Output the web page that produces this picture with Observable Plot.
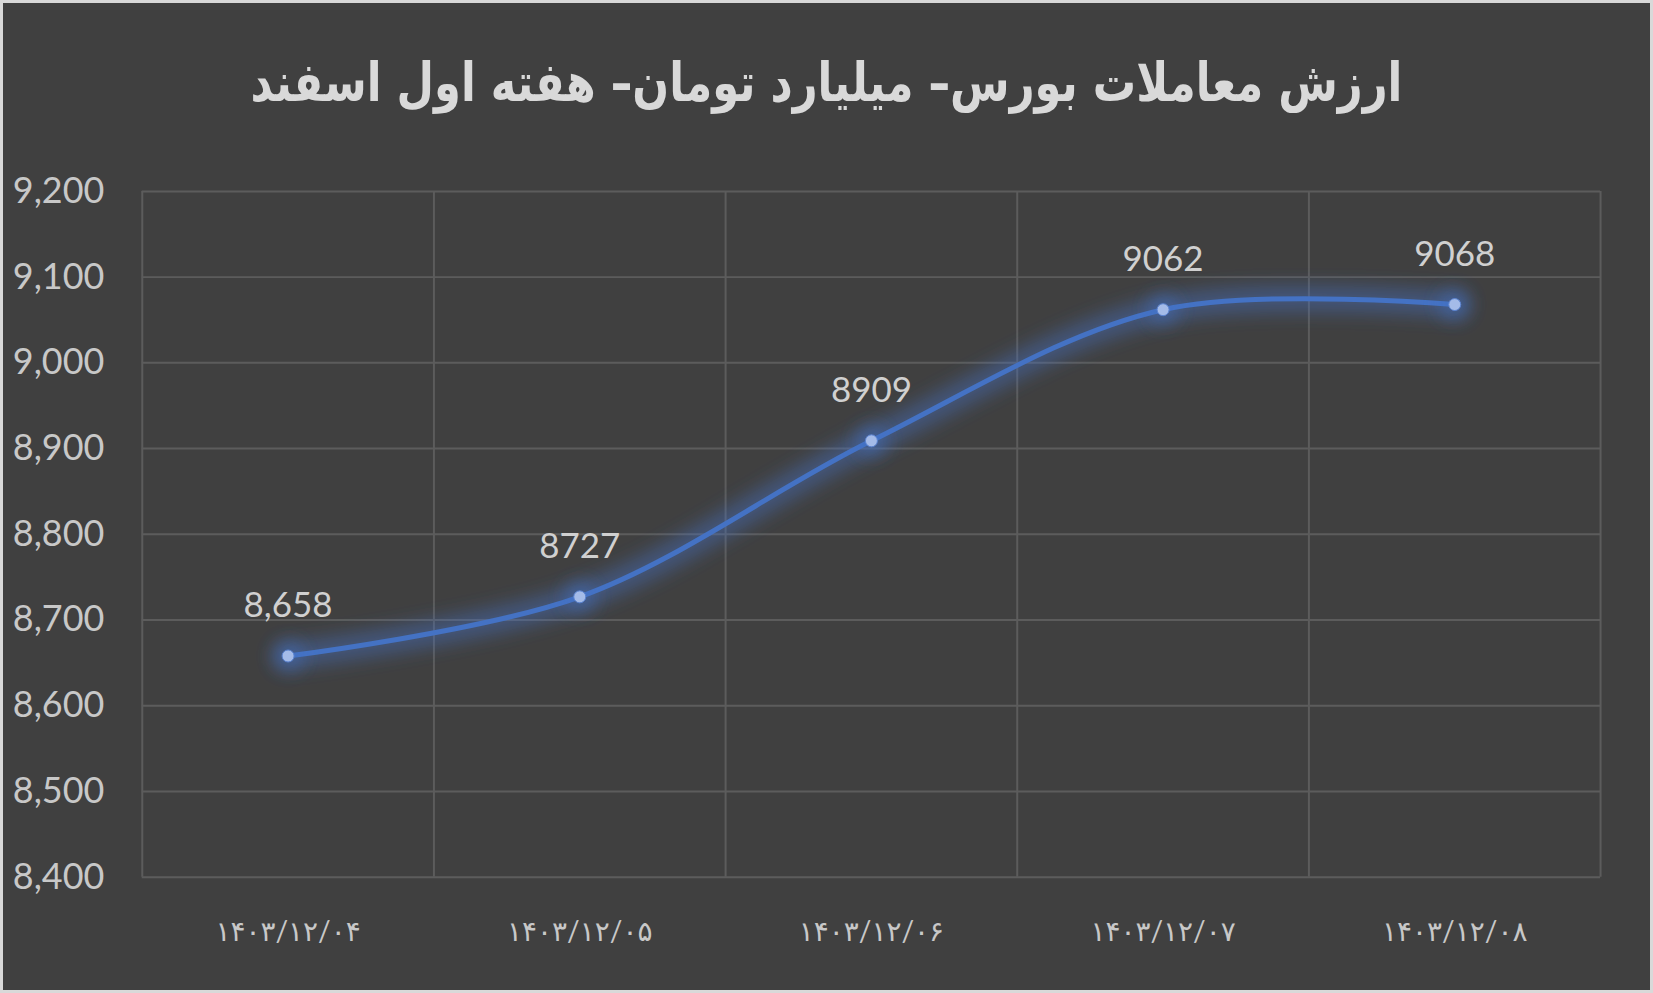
<!DOCTYPE html>
<html>
<head>
<meta charset="utf-8">
<script src="https://cdn.jsdelivr.net/npm/d3@7"></script>
<script src="https://cdn.jsdelivr.net/npm/@observablehq/plot@0.6"></script>
<style>
  html, body { margin: 0; padding: 0; background: #d9d9d9; }
  #wrap { position: relative; width: 1653px; height: 993px; box-sizing: border-box; border: 3px solid #d9d9d9; background: #404040; overflow: hidden; }
  #title { position: absolute; left: 0; top: 48px; width: 100%; text-align: center; direction: rtl;
           font-family: "DejaVu Sans", sans-serif; font-weight: bold; font-size: 54px; color: #d9d9d9;
           transform: scaleX(0.8); transform-origin: 50% 50%; }
  #chart { position: absolute; left: -3px; top: 137px; }
</style>
</head>
<body>
<div id="wrap">
  <div id="title">ارزش معاملات بورس– میلیارد تومان– هفته اول اسفند</div>
  <div id="chart"></div>
</div>
<script>
const dates = ["۱۴۰۳/۱۲/۰۴", "۱۴۰۳/۱۲/۰۵", "۱۴۰۳/۱۲/۰۶", "۱۴۰۳/۱۲/۰۷", "۱۴۰۳/۱۲/۰۸"];
const values = [8658, 8727, 8909, 9062, 9068];
const valueLabels = ["8,658", "8727", "8909", "9062", "9068"];
const yTicks = [8400, 8500, 8600, 8700, 8800, 8900, 9000, 9100, 9200];

const data = dates.map((d, i) => ({i: i + 1, date: d, value: values[i], label: valueLabels[i]}));
const bounds = d3.range(0, dates.length + 1).map(k => k + 0.5);

const fontFam = "Lato, 'DejaVu Sans', sans-serif";
const chart = Plot.plot({
  width: 1653,
  height: 853,
  marginTop: 51,
  marginBottom: 115,
  marginLeft: 142,
  marginRight: 50,
  style: {background: "transparent", color: "#c8c8c8", fontFamily: fontFam},
  x: {domain: [0.5, dates.length + 0.5], ticks: data.map(d => d.i), tickFormat: i => dates[i - 1], tickSize: 0, tickPadding: 40, label: null},
  y: {domain: [8400, 9200], ticks: yTicks, tickFormat: d3.format(","), tickSize: 0, tickPadding: 40, label: null},
  marks: [
    Plot.gridY(yTicks, {stroke: "#5c5c5c", strokeOpacity: 1, strokeWidth: 2}),
    Plot.ruleX(bounds, {stroke: "#5c5c5c", strokeWidth: 2}),
    Plot.axisY({ticks: yTicks, tickFormat: d3.format(","), tickSize: 0, tickPadding: 38, fontSize: 36, fill: "#c8c8c8"}),
    Plot.axisX({ticks: data.map(d => d.i), tickFormat: i => dates[i - 1], tickSize: 0, tickPadding: 44, fontSize: 28, fill: "#c8c8c8"}),
    Plot.line(data, {x: "i", y: "value", curve: "catmull-rom", stroke: "#4472c4", strokeWidth: 26, strokeOpacity: 0.45}),
    Plot.line(data, {x: "i", y: "value", curve: "catmull-rom", stroke: "#4472c4", strokeWidth: 5}),
    Plot.dot(data, {x: "i", y: "value", r: 15, fill: "#4472c4", fillOpacity: 0.5}),
    Plot.dot(data, {x: "i", y: "value", r: 6, fill: "#a4bbe8", stroke: "#5b84d0", strokeWidth: 1}),
    Plot.text(data, {x: "i", y: "value", text: "label", dy: -50, fontSize: 35, fill: "#d0d0d0"})
  ]
});
document.getElementById("chart").appendChild(chart);

// glow effect
const svg = d3.select(chart);
const defs = svg.insert("defs", ":first-child");
const f = defs.append("filter").attr("id", "glow").attr("x", "-20%").attr("y", "-50%").attr("width", "140%").attr("height", "200%");
f.append("feGaussianBlur").attr("stdDeviation", 9);
svg.selectAll("g[aria-label='line']").filter((d, i) => i === 0).attr("filter", "url(#glow)");
svg.selectAll("g[aria-label='dot']").filter((d, i) => i === 0).attr("filter", "url(#glow)");
</script>
</body>
</html>
